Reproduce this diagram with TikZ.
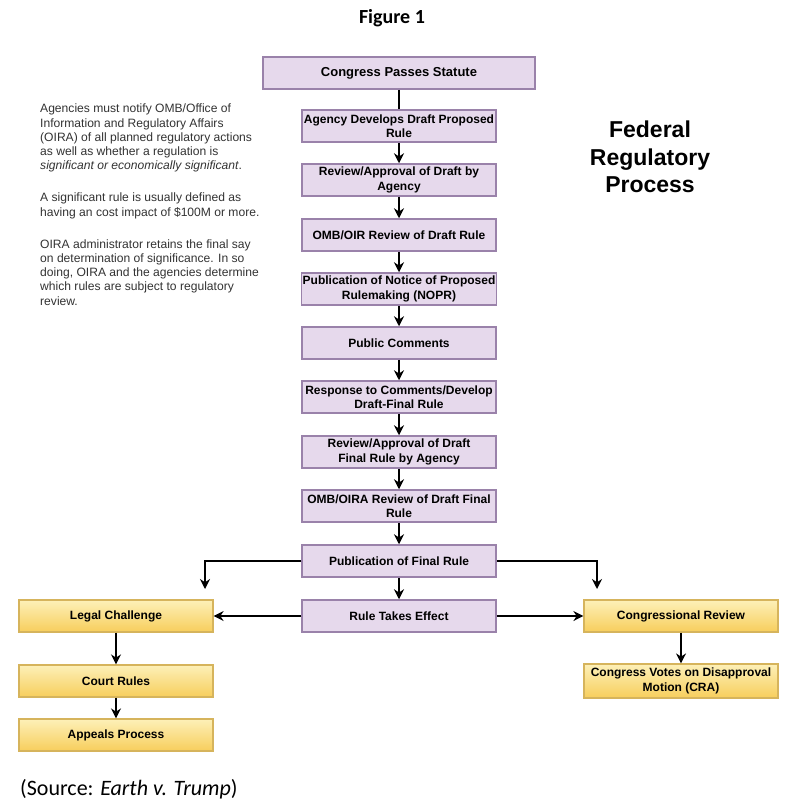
\documentclass[tikz,border=0pt]{standalone}
\usepackage{fontspec}
\setmainfont{Liberation Sans}
\newfontfamily\calfont{Carlito}
\usetikzlibrary{arrows.meta}
\definecolor{pfill}{HTML}{E6D9EC}
\definecolor{pdraw}{HTML}{9A82AA}
\definecolor{ytop}{HTML}{FDF0B8}
\definecolor{ybot}{HTML}{F7CE5C}
\definecolor{ydraw}{HTML}{D6B45C}
\definecolor{sidetext}{HTML}{333333}
\tikzset{
  pbox/.style={draw=pdraw, fill=pfill, line width=1.5pt, minimum width=194pt, minimum height=32pt,
    align=center, inner sep=1pt, font=\fontsize{12}{14.5}\selectfont\bfseries},
  ybox/.style={draw=ydraw, top color=ytop, bottom color=ybot, line width=1.2pt, minimum width=194pt, minimum height=32pt,
    align=center, inner sep=1pt, font=\fontsize{12}{14.5}\selectfont\bfseries},
  conn/.style={line width=1.8pt, -{Stealth[length=10pt,width=10pt]}},
  plain/.style={line width=1.8pt},
  sidenote/.style={anchor=north west, align=left, text=sidetext, inner sep=0pt,
    font=\fontsize{12.1}{14.2}\selectfont}
}
\begin{document}
\begin{tikzpicture}[x=1pt,y=-1pt]
\useasboundingbox (0,0) rectangle (800,801);
\fill[white] (0,0) rectangle (800,801);

\node[font=\calfont\fontsize{20}{22}\selectfont\bfseries] (fig) at (392,18) {Figure 1};

\node[pbox, minimum width=272pt, font=\fontsize{13}{14}\selectfont\bfseries] (n1) at (399,73) {Congress Passes Statute};
\node[pbox] (n2) at (399,126) {Agency Develops Draft Proposed\\Rule};
\node[pbox] (n3) at (399,180) {Review/Approval of Draft by\\Agency};
\node[pbox] (n4) at (399,235) {OMB/OIR Review of Draft Rule};
\node[pbox] (n5) at (399,289) {Publication of Notice of Proposed\\Rulemaking (NOPR)};
\node[pbox] (n6) at (399,343) {Public Comments};
\node[pbox] (n7) at (399,397) {Response to Comments/Develop\\Draft-Final Rule};
\node[pbox] (n8) at (399,452) {Review/Approval of Draft\\Final Rule by Agency};
\node[pbox] (n9) at (399,506) {OMB/OIRA Review of Draft Final\\Rule};
\node[pbox] (n10) at (399,561) {Publication of Final Rule};
\node[pbox] (n11) at (399,616) {Rule Takes Effect};

\node[ybox] (lc) at (116,616) {Legal Challenge};
\node[ybox] (cr) at (116,681) {Court Rules};
\node[ybox] (ap) at (116,735) {Appeals Process};
\node[ybox] (cg) at (681,616) {Congressional Review};
\node[ybox, minimum height=34pt] (cv) at (681,681) {Congress Votes on Disapproval\\Motion (CRA)};

\coordinate (lend) at (205,589);
\coordinate (rend) at (597,589);

\draw[plain] (n1) -- (n2);
\draw[conn] (n2) -- (n3);
\draw[conn] (n3) -- (n4);
\draw[conn] (n4) -- (n5);
\draw[conn] (n5) -- (n6);
\draw[conn] (n6) -- (n7);
\draw[conn] (n7) -- (n8);
\draw[conn] (n8) -- (n9);
\draw[conn] (n9) -- (n10);
\draw[conn] (n10) -- (n11);
\draw[conn] (n10.west) -| (lend);
\draw[conn] (n10.east) -| (rend);
\draw[conn] (n11) -- (lc);
\draw[conn] (n11) -- (cg);
\draw[conn] (lc) -- (cr);
\draw[conn] (cr) -- (ap);
\draw[conn] (cg) -- (cv);

\node[sidenote] (side) at (40,104) {Agencies must notify OMB/Office of\\
Information and Regulatory Affairs\\
(OIRA) of all planned regulatory actions\\
as well as whether a regulation is\\
\textit{significant or economically significant}.\\[18pt]
A significant rule is usually defined as\\
having an cost impact of \$100M or more.\\[18pt]
OIRA administrator retains the final say\\
on determination of significance. In so\\
doing, OIRA and the agencies determine\\
which rules are subject to regulatory\\
review.};

\node[align=center, font=\fontsize{23}{27.5}\selectfont\bfseries] (title) at (650,157) {Federal\\Regulatory\\Process};

\node[anchor=west, font=\calfont\fontsize{22}{24}\selectfont, inner sep=0pt] (src) at (20,789) {(Source: \textit{Earth v. Trump})};
\end{tikzpicture}
\end{document}
